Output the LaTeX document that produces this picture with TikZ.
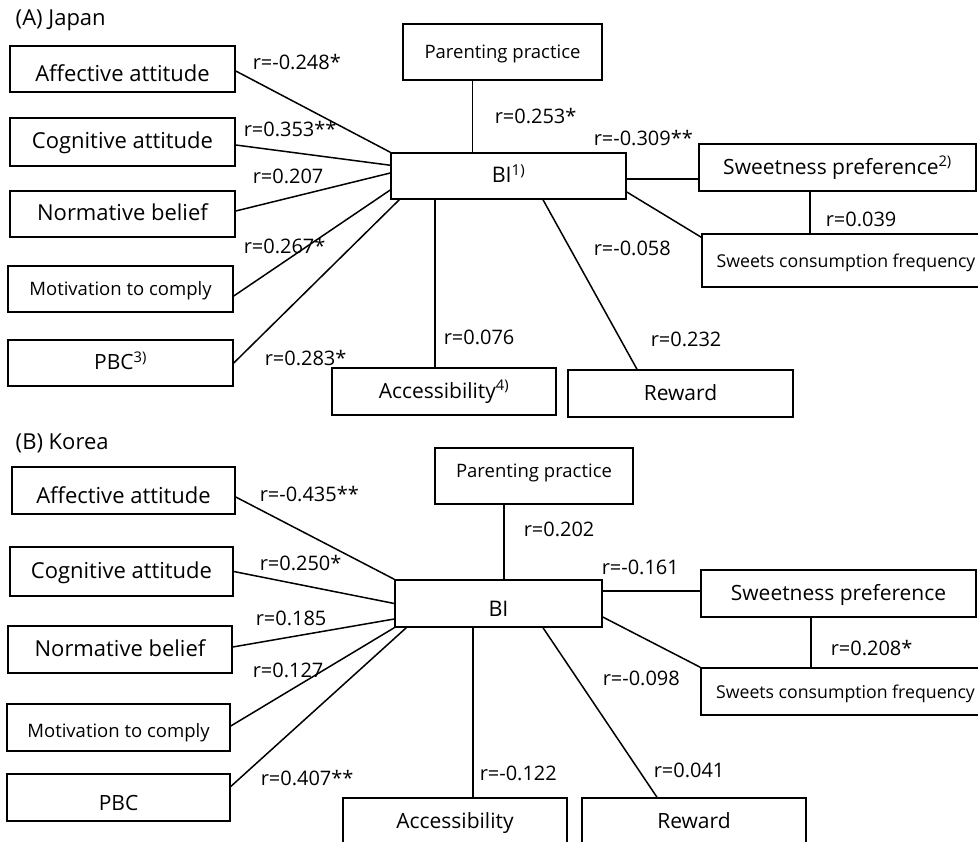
\documentclass[tikz,border=0pt]{standalone}
\usepackage{fontspec}
\setmainfont{Open Sans}
\newcommand{\txtsize}[1]{\fontsize{#1}{#1}\selectfont}
\tikzset{
  box/.style 2 args={draw, minimum width=#1, minimum height=#2, inner sep=0pt,
    text height=14pt, text depth=0pt},
  texth/.style={text height=#1},
  rlab/.style={anchor=west, inner sep=0pt, font=\txtsize{20}},
  ttl/.style={anchor=west, inner sep=0pt, font=\txtsize{22}}
}
\begin{document}
\begin{tikzpicture}[x=1pt, y=-1pt, line width=1.5pt]
  \useasboundingbox (0,0) rectangle (978,842);
  % (A) Japan
  \node[ttl] (ta) at (15,20) {(A) Japan};
  \draw
    (508.5,176) node[box={235pt}{46pt}, font=\txtsize{21.5}] (a0) {BI\textsuperscript{1)}}
    (122.5,69) node[box={225pt}{46pt}, font=\txtsize{22}, texth=26pt] (a1) {Affective attitude}
    (122.5,142) node[box={225pt}{48pt}, font=\txtsize{22}] (a2) {Cognitive attitude}
    (122.5,214) node[box={225pt}{46pt}, font=\txtsize{22}] (a3) {Normative belief}
    (120.5,289) node[box={225pt}{46pt}, font=\txtsize{18.5}] (a4) {Motivation to comply}
    (120.5,363) node[box={225pt}{46pt}, font=\txtsize{21}] (a5) {PBC\textsuperscript{3)}}
    (502.5,52) node[box={199pt}{56pt}, font=\txtsize{18.5}] (a6) {Parenting practice}
    (837.5,167.5) node[box={277pt}{47pt}, font=\txtsize{21}] (a7) {Sweetness preference\textsuperscript{2)}}
    (846,260.5) node[box={288pt}{53pt}, font=\txtsize{17.7}] (a8) {Sweets consumption frequency}
    (444,391.5) node[box={224pt}{47pt}, font=\txtsize{21}] (a9) {Accessibility\textsuperscript{4)}}
    (680.5,393.5) node[box={225pt}{47pt}, font=\txtsize{21}] (a10) {Reward};
  \begin{scope}[-]
    \draw ([yshift=-2pt]a1.east) -- (a0.north west);
    \draw ([yshift=-3pt]a2.east) -- ([yshift=-13pt]a0.north west);
    \draw ([yshift=3pt]a3.east) -- ([yshift=3pt]a0.west);
    \draw ([yshift=-7pt]a4.east) -- ([yshift=-14pt]a0.west);
    \draw (a5.east) -- ([xshift=9pt]a0.south west);
    \draw ([xshift=-30pt]a6.south) -- ([xshift=-30pt]a6.south |- a0.north);
    \draw ([yshift=-3pt]a0.east) -- ([yshift=-3pt]a0.east -| a7.west);
    \draw ([yshift=-16pt]a0.east) -- ([yshift=-4pt]a8.north west);
    \draw ([xshift=-27.5pt]a7.south) -- ([xshift=-27.5pt]a7.south |- a8.north);
    \draw ([xshift=-9pt]a9.north) -- ([xshift=-9pt]a9.north |- a0.south);
    \draw ([xshift=34.5pt]a0.south) -- ([xshift=-43.5pt]a10.north);
  \end{scope}
  \node[rlab] (la1) at (252,62) {r=-0.248*};
  \node[rlab] (la2) at (243,129) {r=0.353**};
  \node[rlab] (la3) at (252,176) {r=0.207};
  \node[rlab] (la4) at (243,246) {r=0.267*};
  \node[rlab] (la5) at (264,358) {r=0.283*};
  \node[rlab] (la6) at (494,116) {r=0.253*};
  \node[rlab] (la7) at (593,138) {r=-0.309**};
  \node[rlab] (la8) at (593,248) {r=-0.058};
  \node[rlab] (la9) at (443,337) {r=0.076};
  \node[rlab] (la10) at (650,339) {r=0.232};
  \node[rlab] (la11) at (825,219) {r=0.039};
  % (B) Korea
  \node[ttl] (tb) at (15,443) {(B) Korea};
  \draw
    (498.5,603.5) node[box={207pt}{47pt}, font=\txtsize{21.5}, texth=26pt] (b0) {BI}
    (123.5,490.5) node[box={223pt}{47pt}, font=\txtsize{22}, texth=26pt] (b1) {Affective attitude}
    (121.5,571.5) node[box={223pt}{49pt}, font=\txtsize{22}] (b2) {Cognitive attitude}
    (120,649.5) node[box={224pt}{47pt}, font=\txtsize{22}] (b3) {Normative belief}
    (118.5,727.5) node[box={223pt}{47pt}, font=\txtsize{18.5}, texth=20pt] (b4) {Motivation to comply}
    (118.5,797.5) node[box={223pt}{47pt}, font=\txtsize{21}, texth=26pt] (b5) {PBC}
    (534,476) node[box={198pt}{56pt}, font=\txtsize{18.5}, texth=2pt] (b6) {Parenting practice}
    (838.5,593.5) node[box={275pt}{47pt}, font=\txtsize{21}] (b7) {Sweetness preference}
    (845.5,691.5) node[box={289pt}{47pt}, font=\txtsize{17.7}] (b8) {Sweets consumption frequency}
    (455,821.5) node[box={224pt}{47pt}, font=\txtsize{21}] (b9) {Accessibility}
    (694,821.5) node[box={224pt}{47pt}, font=\txtsize{21}] (b10) {Reward};
  \begin{scope}[-]
    \draw ([yshift=-6.5pt]b1.east) -- (b0.north west);
    \draw (b2.east) -- (b0.west);
    \draw ([yshift=2.5pt]b3.east) -- ([yshift=-15.5pt]b0.west);
    \draw ([yshift=1.5pt]b4.east) -- (b0.south west);
    \draw ([yshift=11pt]b5.east) -- ([xshift=12pt]b0.south west);
    \draw ([xshift=-30pt]b6.south) -- ([xshift=-30pt]b6.south |- b0.north);
    \draw ([yshift=12.5pt]b0.east) -- ([yshift=12.5pt]b0.east -| b7.west);
    \draw ([yshift=-13.5pt]b0.east) -- (b8.north west);
    \draw ([xshift=-27.5pt]b7.south) -- ([xshift=-27.5pt]b7.south |- b8.north);
    \draw ([xshift=18pt]b9.north) -- ([xshift=18pt]b9.north |- b0.south);
    \draw ([xshift=44.5pt]b0.south) -- ([xshift=-37pt]b10.north);
  \end{scope}
  \node[rlab] (lb1) at (259,494) {r=-0.435**};
  \node[rlab] (lb2) at (259,563) {r=0.250*};
  \node[rlab] (lb3) at (255,618) {r=0.185};
  \node[rlab] (lb4) at (252,670) {r=0.127};
  \node[rlab] (lb5) at (260,778) {r=0.407**};
  \node[rlab] (lb6) at (523,529) {r=0.202};
  \node[rlab] (lb7) at (601,567) {r=-0.161};
  \node[rlab] (lb8) at (602,678) {r=-0.098};
  \node[rlab] (lb9) at (479,773) {r=-0.122};
  \node[rlab] (lb10) at (653,770) {r=0.041};
  \node[rlab] (lb11) at (830,648) {r=0.208*};
\end{tikzpicture}
\end{document}
